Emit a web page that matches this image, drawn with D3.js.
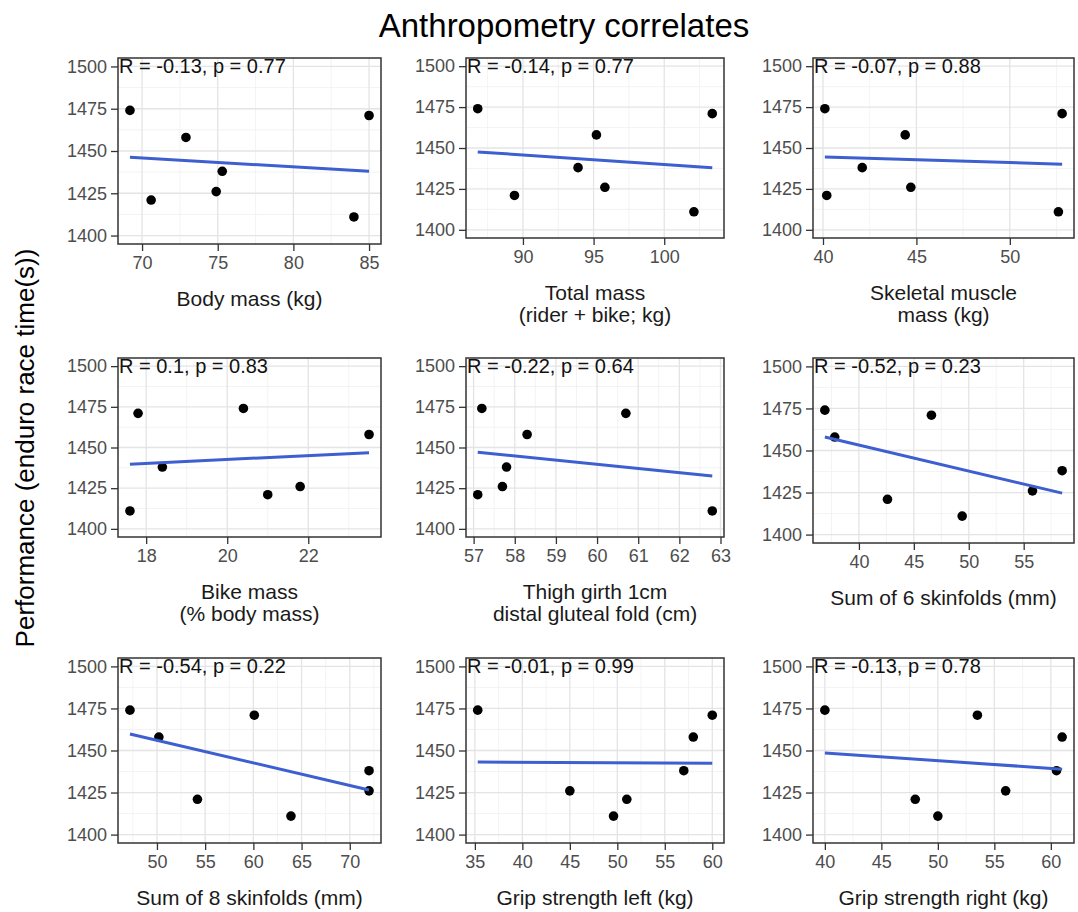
<!DOCTYPE html>
<html>
<head>
<meta charset="utf-8">
<script src="https://cdn.jsdelivr.net/npm/d3@7"></script>
<style>
    body { margin: 0; background: #fff; }
    svg { display: block; font-family: "Liberation Sans", Arial, sans-serif; }
</style>
</head>
<body>
<svg id="chart" width="1078" height="912"></svg>
<script>
// race time of the 7 riders, same order in every x array below
const raceTime = [1474, 1471, 1458, 1438, 1426, 1421, 1411];

const bodyMass = [69.2, 85.0, 72.9, 75.3, 74.9, 70.6, 84.0];
const totalMass = [86.8, 103.4, 95.2, 93.9, 95.8, 89.4, 102.1];
const skeletalMuscle = [40.1, 52.8, 44.4, 42.1, 44.7, 40.2, 52.6];
const bikeMassPct = [20.4, 17.8, 23.5, 18.4, 21.8, 21.0, 17.6];
const thighGirth = [57.2, 60.7, 58.3, 57.8, 57.7, 57.1, 62.8];
const sum6Skinfolds = [36.9, 46.6, 37.8, 58.5, 55.8, 42.6, 49.4];
const sum8Skinfolds = [47.2, 60.1, 50.2, 72.0, 72.0, 54.2, 63.9];
const gripLeft = [35.3, 60.0, 58.0, 57.0, 45.0, 51.0, 49.6];
const gripRight = [40.0, 53.5, 61.0, 60.5, 56.0, 48.0, 50.0];

const corLabels = [
    'R = -0.13, p = 0.77', 'R = -0.14, p = 0.77', 'R = -0.07, p = 0.88',
    'R = 0.1, p = 0.83', 'R = -0.22, p = 0.64', 'R = -0.52, p = 0.23',
    'R = -0.54, p = 0.22', 'R = -0.01, p = 0.99', 'R = -0.13, p = 0.78'
];
const xTitles = [
    ['Body mass (kg)'], ['Total mass', '(rider + bike; kg)'], ['Skeletal muscle', 'mass (kg)'],
    ['Bike mass', '(% body mass)'], ['Thigh girth 1cm', 'distal gluteal fold (cm)'], ['Sum of 6 skinfolds (mm)'],
    ['Sum of 8 skinfolds (mm)'], ['Grip strength left (kg)'], ['Grip strength right (kg)']
];
const xTicks = [
    [70, 75, 80, 85], [90, 95, 100], [40, 45, 50],
    [18, 20, 22], [57, 58, 59, 60, 61, 62, 63], [40, 45, 50, 55],
    [50, 55, 60, 65, 70], [35, 40, 45, 50, 55, 60], [40, 45, 50, 55, 60]
];
const yTicks = [1400, 1425, 1450, 1475, 1500];
const yLimits = [1400, 1500];

const xSeries = [bodyMass, totalMass, skeletalMuscle, bikeMassPct, thighGirth,
    sum6Skinfolds, sum8Skinfolds, gripLeft, gripRight];

// 布局
const colLeft = [118, 466, 813];
const colRight = [381, 724, 1074];
const rowTop = [58, 358, 658];
const rowBottom = [244, 543, 843];

const svg = d3.select('#chart');

svg.append('text')
    .attr('x', 564)
    .attr('y', 37)
    .attr('text-anchor', 'middle')
    .attr('font-size', 33)
    .attr('fill', '#000')
    .text('Anthropometry correlates');

svg.append('text')
    .attr('transform', 'translate(34,448) rotate(-90)')
    .attr('text-anchor', 'middle')
    .attr('font-size', 26)
    .attr('fill', '#000')
    .text('Performance (enduro race time(s))');

// ggplot style expand of 5%
const expand = (ext, k = 0.05) => {
    const r = ext[1] - ext[0];
    return [ext[0] - r * k, ext[1] + r * k];
};

// minor breaks: midpoints, one step beyond each end too
const minorBreaks = (ticks) => {
    const step = ticks[1] - ticks[0];
    const out = [ticks[0] - step / 2];
    ticks.forEach((t) => out.push(t + step / 2));
    return out;
};

const linearFit = (xs, ys) => {
    const mx = d3.mean(xs);
    const my = d3.mean(ys);
    let sxy = 0;
    let sxx = 0;
    xs.forEach((x, i) => {
        sxy += (x - mx) * (ys[i] - my);
        sxx += (x - mx) * (x - mx);
    });
    const b = sxy / sxx;
    return (x) => my + b * (x - mx);
};

xSeries.forEach((xs, i) => {
    const row = Math.floor(i / 3);
    const col = i % 3;
    const left = colLeft[col];
    const right = colRight[col];
    const top = rowTop[row];
    const bottom = rowBottom[row] - (xTitles[i].length > 1 ? 6 : 0);

    const xExt = d3.extent(xs);
    const x = d3.scaleLinear().domain(expand(xExt)).range([left, right]);
    const y = d3.scaleLinear().domain(expand(yLimits)).range([bottom, top]);
    const [x0, x1] = x.domain();
    const [y0, y1] = y.domain();

    const g = svg.append('g');

    // grid
    const xMinor = minorBreaks(xTicks[i]).filter((v) => v > x0 && v < x1);
    const yMinor = minorBreaks(yTicks).filter((v) => v > y0 && v < y1);
    g.selectAll('.xminor').data(xMinor).enter().append('line')
        .attr('x1', (d) => x(d)).attr('x2', (d) => x(d))
        .attr('y1', top).attr('y2', bottom)
        .attr('stroke', '#f0f0f0').attr('stroke-width', 0.8);
    g.selectAll('.yminor').data(yMinor).enter().append('line')
        .attr('x1', left).attr('x2', right)
        .attr('y1', (d) => y(d)).attr('y2', (d) => y(d))
        .attr('stroke', '#f0f0f0').attr('stroke-width', 0.8);
    g.selectAll('.xmajor').data(xTicks[i]).enter().append('line')
        .attr('x1', (d) => x(d)).attr('x2', (d) => x(d))
        .attr('y1', top).attr('y2', bottom)
        .attr('stroke', '#e4e4e4').attr('stroke-width', 1.3);
    g.selectAll('.ymajor').data(yTicks).enter().append('line')
        .attr('x1', left).attr('x2', right)
        .attr('y1', (d) => y(d)).attr('y2', (d) => y(d))
        .attr('stroke', '#e4e4e4').attr('stroke-width', 1.3);

    // points
    g.selectAll('circle').data(xs).enter().append('circle')
        .attr('cx', (d) => x(d))
        .attr('cy', (d, j) => y(raceTime[j]))
        .attr('r', 4.8)
        .attr('fill', '#000');

    // lm line
    const fit = linearFit(xs, raceTime);
    g.append('line')
        .attr('x1', x(xExt[0])).attr('y1', y(fit(xExt[0])))
        .attr('x2', x(xExt[1])).attr('y2', y(fit(xExt[1])))
        .attr('stroke', '#3d5fcf')
        .attr('stroke-width', 3);

    g.append('text')
        .attr('x', left + 1)
        .attr('y', y(yLimits[1]))
        .attr('dy', '0.35em')
        .attr('font-size', 20)
        .attr('fill', '#111')
        .text(corLabels[i]);

    g.append('rect')
        .attr('x', left).attr('y', top)
        .attr('width', right - left).attr('height', bottom - top)
        .attr('fill', 'none')
        .attr('stroke', '#333')
        .attr('stroke-width', 1.5);

    const yAxis = g.append('g')
        .attr('transform', `translate(${left},0)`)
        .call(d3.axisLeft(y).tickValues(yTicks).tickFormat((d) => d).tickSize(7).tickPadding(4));
    const xAxis = g.append('g')
        .attr('transform', `translate(0,${bottom})`)
        .call(d3.axisBottom(x).tickValues(xTicks[i]).tickFormat((d) => d).tickSize(7).tickPadding(5));
    [yAxis, xAxis].forEach((a) => {
        a.select('.domain').remove();
        a.selectAll('line').attr('stroke', '#333').attr('stroke-width', 1.3);
        a.selectAll('text')
            .attr('font-size', 18)
            .attr('fill', '#4d4d4d')
            .attr('font-family', '"Liberation Sans", Arial, sans-serif');
    });

    const cx = (left + right) / 2;
    xTitles[i].forEach((t, k) => {
        g.append('text')
            .attr('x', cx)
            .attr('y', bottom + 62 + k * 22)
            .attr('text-anchor', 'middle')
            .attr('font-size', 21)
            .attr('fill', '#1a1a1a')
            .text(t);
    });
});
</script>
</body>
</html>
